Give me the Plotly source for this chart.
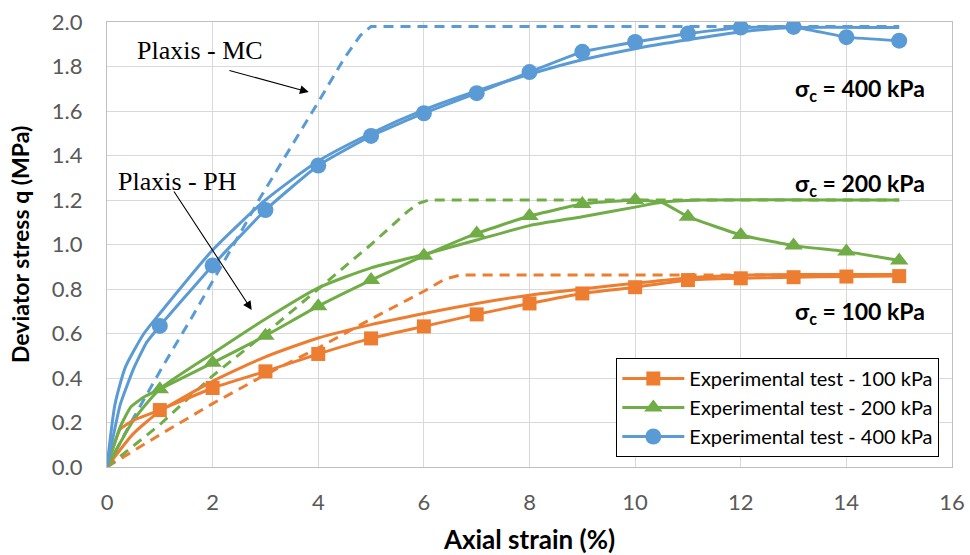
import plotly.graph_objects as go

# ---------------- data ----------------
# Experimental curves (line points) and marker points
exp100_x = [0, 0.25, 0.5, 1, 2, 3, 4, 5, 6, 7, 8, 9, 10, 11, 12, 13, 14, 15]
exp100_y = [0, 0.17, 0.21, 0.256, 0.355, 0.43, 0.508, 0.578, 0.632, 0.686, 0.735, 0.78, 0.808, 0.84, 0.848, 0.853, 0.856, 0.858]
exp200_x = [0, 0.25, 0.45, 0.7, 1, 2, 3, 4, 5, 6, 7, 8, 9, 10, 10.5, 11, 12, 13, 14, 15]
exp200_y = [0, 0.18, 0.27, 0.315, 0.35, 0.468, 0.59, 0.723, 0.84, 0.95, 1.05, 1.128, 1.182, 1.2, 1.19, 1.125, 1.043, 0.995, 0.968, 0.928]
exp400_x = [0, 0.25, 0.5, 0.75, 1, 2, 3, 4, 5, 6, 7, 8, 9, 10, 11, 12, 13, 14, 15]
exp400_y = [0, 0.28, 0.44, 0.56, 0.634, 0.906, 1.155, 1.355, 1.488, 1.59, 1.68, 1.775, 1.866, 1.91, 1.948, 1.975, 1.978, 1.932, 1.916]

mark_x = [1, 2, 3, 4, 5, 6, 7, 8, 9, 10, 11, 12, 13, 14, 15]
mark100_y = [0.256, 0.355, 0.43, 0.508, 0.578, 0.632, 0.686, 0.735, 0.78, 0.808, 0.84, 0.848, 0.853, 0.856, 0.858]
mark200_y = [0.35, 0.468, 0.59, 0.723, 0.84, 0.95, 1.05, 1.128, 1.182, 1.2, 1.125, 1.043, 0.995, 0.968, 0.928]
mark400_y = [0.634, 0.906, 1.155, 1.355, 1.488, 1.59, 1.68, 1.775, 1.866, 1.91, 1.948, 1.975, 1.978, 1.932, 1.916]

# Plaxis - PH (hardening soil) curves
ph100_x = [0, 0.5, 1, 2, 3, 4, 5, 6, 7, 8, 9, 10, 11, 12, 13, 15]
ph100_y = [0, 0.15, 0.25, 0.385, 0.495, 0.58, 0.64, 0.69, 0.735, 0.772, 0.80, 0.826, 0.85, 0.862, 0.865, 0.865]
ph200_x = [0, 0.5, 1, 2, 3, 4, 5, 6, 7, 8, 9, 10, 10.5, 11.2, 15]
ph200_y = [0, 0.21, 0.35, 0.51, 0.665, 0.805, 0.895, 0.955, 1.02, 1.085, 1.125, 1.168, 1.19, 1.2, 1.2]
ph400_x = [0, 0.15, 0.35, 0.7, 1, 2, 3, 4, 5, 6, 7, 8, 9, 10, 11, 12, 13, 15]
ph400_y = [0, 0.28, 0.45, 0.60, 0.69, 0.975, 1.2, 1.375, 1.5, 1.605, 1.69, 1.765, 1.83, 1.88, 1.92, 1.955, 1.975, 1.975]

# Plaxis - MC (Mohr-Coulomb) curves
mc100_x = [0, 1, 2, 3, 4, 5, 6, 6.4, 6.7, 15]
mc100_y = [0, 0.145, 0.285, 0.415, 0.535, 0.665, 0.79, 0.845, 0.863, 0.863]
mc200_x = [0, 1, 2, 3, 4, 5, 5.7, 5.9, 6.1, 15]
mc200_y = [0, 0.19, 0.41, 0.60, 0.80, 1.0, 1.15, 1.185, 1.2, 1.2]
mc400_x = [0, 0.5, 1.05, 1.6, 2.4, 2.9, 4.0, 4.5, 4.8, 5.0, 15]
mc400_y = [0, 0.22, 0.45, 0.67, 1.0, 1.21, 1.64, 1.84, 1.94, 1.98, 1.98]

legend_names = ["Experimental test - 100 kPa", "Experimental test - 200 kPa", "Experimental test - 400 kPa"]
x_ticks = [0, 2, 4, 6, 8, 10, 12, 14, 16]
y_ticks = [0.0, 0.2, 0.4, 0.6, 0.8, 1.0, 1.2, 1.4, 1.6, 1.8, 2.0]

# ---------------- style ----------------
ORANGE = "#ED7D31"
GREEN = "#70AD47"
BLUE = "#5B9BD5"
FONT = "Lato"
LW = 3
DASH = "10px,7px"

fig = go.Figure()

series = [
    (ORANGE, "square", 14, mc100_x, mc100_y, ph100_x, ph100_y, exp100_x, exp100_y, mark100_y),
    (GREEN, "triangle-up", 16, mc200_x, mc200_y, ph200_x, ph200_y, exp200_x, exp200_y, mark200_y),
    (BLUE, "circle", 16, mc400_x, mc400_y, ph400_x, ph400_y, exp400_x, exp400_y, mark400_y),
]

# MC dashed lines
for col, sym, ms, mx, my, px, py, ex, ey, mky in series:
    fig.add_trace(go.Scatter(x=mx, y=my, mode="lines", showlegend=False, hoverinfo="skip",
                             line=dict(color=col, width=LW, dash=DASH)))
# PH solid lines
for col, sym, ms, mx, my, px, py, ex, ey, mky in series:
    fig.add_trace(go.Scatter(x=px, y=py, mode="lines", showlegend=False, hoverinfo="skip",
                             line=dict(color=col, width=LW, shape="spline", smoothing=0.6)))
# Experimental lines + markers
for col, sym, ms, mx, my, px, py, ex, ey, mky in series:
    fig.add_trace(go.Scatter(x=ex, y=ey, mode="lines", showlegend=False,
                             line=dict(color=col, width=LW, shape="spline", smoothing=0.4)))
    fig.add_trace(go.Scatter(x=mark_x, y=mky, mode="markers", showlegend=False,
                             marker=dict(color=col, symbol=sym, size=ms, line=dict(width=0))))
# Legend entries
for (col, sym, ms, *_), name in zip(series, legend_names):
    fig.add_trace(go.Scatter(x=[None], y=[None], mode="lines+markers", name=name,
                             line=dict(color=col, width=LW),
                             marker=dict(color=col, symbol=sym, size=ms, line=dict(width=0))))

annotations = [
    # Plaxis labels (serif)
    dict(x=1.76, y=1.874, xref="x", yref="y", text="Plaxis - MC", showarrow=False,
         font=dict(family="Liberation Serif", size=26, color="black")),
    dict(x=1.34, y=1.281, xref="x", yref="y", text="Plaxis - PH", showarrow=False,
         font=dict(family="Liberation Serif", size=26, color="black")),
    # arrows
    dict(x=3.82, y=1.685, ax=2.29, ay=1.784, xref="x", yref="y", axref="x", ayref="y",
         text="", showarrow=True, arrowhead=2, arrowsize=1.6, arrowwidth=1.1, arrowcolor="black"),
    dict(x=2.74, y=0.706, ax=1.25, ay=1.245, xref="x", yref="y", axref="x", ayref="y",
         text="", showarrow=True, arrowhead=2, arrowsize=1.6, arrowwidth=1.1, arrowcolor="black"),
    # confining pressure labels
    dict(x=15.53, y=1.695, xref="x", yref="y", xanchor="right", text="<b>σ<sub>c</sub> = 400 kPa</b>",
         showarrow=False, font=dict(family=FONT, size=23, color="black")),
    dict(x=15.53, y=1.27, xref="x", yref="y", xanchor="right", text="<b>σ<sub>c</sub> = 200 kPa</b>",
         showarrow=False, font=dict(family=FONT, size=23, color="black")),
    dict(x=15.53, y=0.695, xref="x", yref="y", xanchor="right", text="<b>σ<sub>c</sub> = 100 kPa</b>",
         showarrow=False, font=dict(family=FONT, size=23, color="black")),
    # y-axis title
    dict(x=-0.1035, y=0.5, xref="paper", yref="paper", xanchor="center", yanchor="middle",
         text="<b>Deviator stress q (MPa)</b>",
         textangle=-90, showarrow=False, font=dict(family=FONT, size=23, color="black")),
]

fig.update_layout(
    width=970, height=555,
    margin=dict(l=107, r=18, t=22, b=88, autoexpand=False),
    paper_bgcolor="white", plot_bgcolor="white",
    font=dict(family=FONT, size=22, color="#595959"),
    annotations=annotations,
    legend=dict(x=0.985, y=0.0225, xanchor="right", yanchor="bottom",
                bgcolor="white", bordercolor="black", borderwidth=1,
                font=dict(family=FONT, size=20, color="black"),
                itemwidth=62),
    xaxis=dict(range=[0, 16], tickvals=x_ticks, ticktext=[str(v) for v in x_ticks],
               showgrid=True, gridcolor="#D9D9D9", gridwidth=1,
               showline=True, linecolor="#BFBFBF", linewidth=1.2, mirror=True,
               zeroline=False, ticks="", ticklabelstandoff=15, ticklabeloverflow="allow",
               automargin=False,
               title=dict(text="<b>Axial strain (%)</b>", font=dict(family=FONT, size=26, color="black"),
                          standoff=20)),
    yaxis=dict(range=[0, 2.0], tickvals=y_ticks, ticktext=[f"{v:.1f}" for v in y_ticks],
               showgrid=True, gridcolor="#D9D9D9", gridwidth=1,
               showline=True, linecolor="#BFBFBF", linewidth=1.2, mirror=True,
               zeroline=False, ticks="", ticklabelstandoff=19, ticklabeloverflow="allow",
               automargin=False),
)

# remove the default 8px page margin so the 970x555 figure fills the window exactly
fig.write_html("out.html", config={"displayModeBar": False},
               post_script="document.body.style.margin='0';document.body.style.overflow='hidden';")
